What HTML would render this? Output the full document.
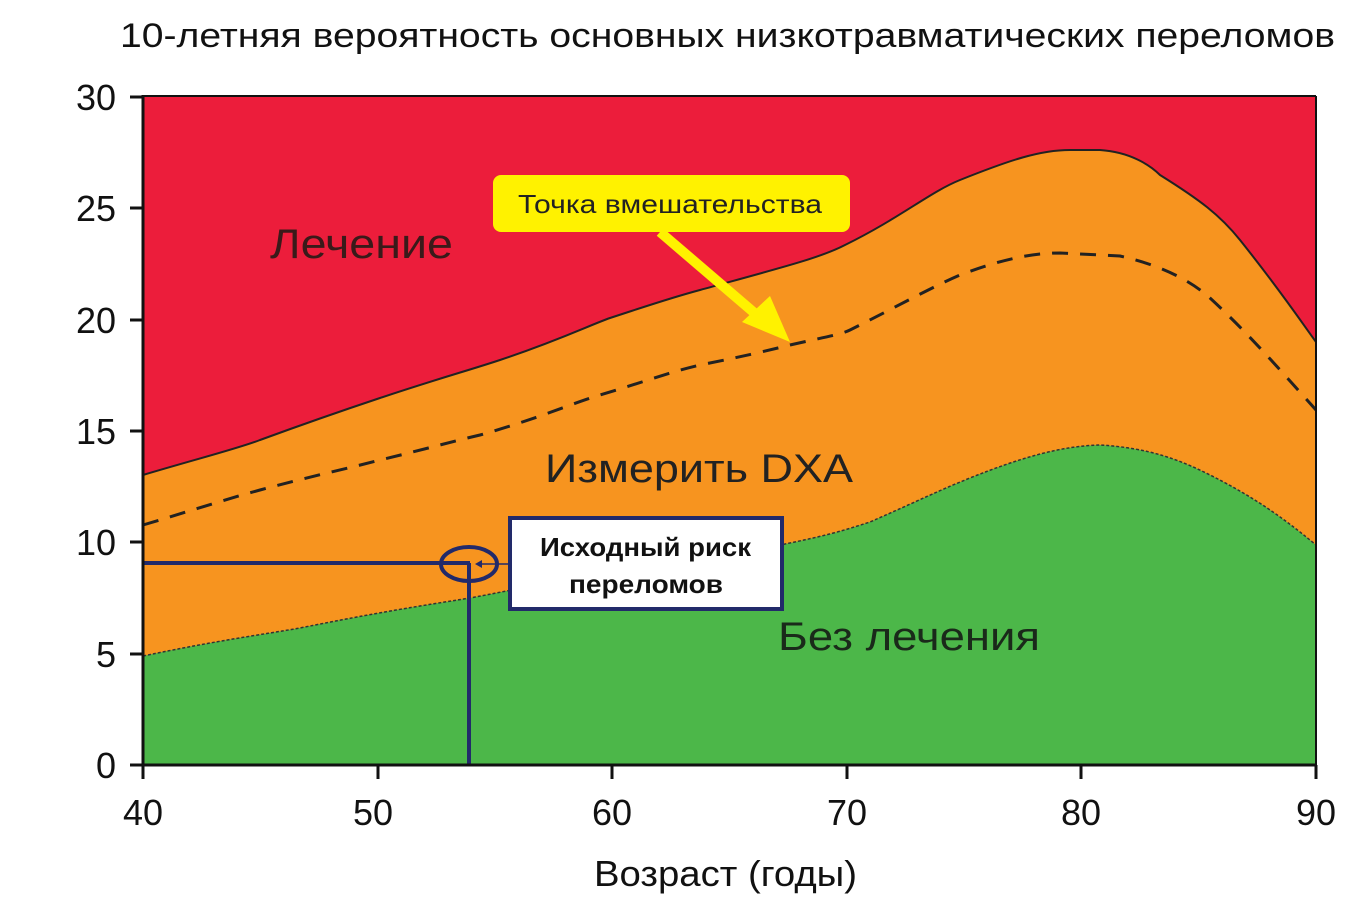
<!DOCTYPE html>
<html><head><meta charset="utf-8"><style>
html,body{margin:0;padding:0;background:#fff;}
svg{display:block;font-family:"Liberation Sans","DejaVu Sans",sans-serif;}
</style></head><body>
<svg width="1368" height="905" viewBox="0 0 1368 905" xmlns="http://www.w3.org/2000/svg">
<rect x="0" y="0" width="1368" height="905" fill="#fff"/>
<text x="120" y="47" font-size="34" textLength="1215" lengthAdjust="spacingAndGlyphs" fill="#111">10-летняя вероятность основных низкотравматических переломов</text>
<rect x="143" y="96" width="1173" height="669" fill="#ec1d3b"/>
<path d="M143,475 C200,458 240,448 260,440 C320,418 350,408 380,398 C440,378 470,370 500,360 C560,340 590,325 610,318 C650,305 670,298 700,290 C780,268 820,258 845,245 C900,218 930,192 960,180 C1010,160 1040,150 1070,150 L1100,150 C1130,152 1150,165 1160,175 C1200,200 1220,215 1240,240 C1280,290 1300,320 1316,342 L1316,765 L143,765 Z" fill="#f7941f" stroke="#222" stroke-width="2"/>
<path d="M143,656 C220,640 260,635 300,628 C380,612 420,606 470,598 C540,585 580,575 620,570 C700,555 740,550 780,545 C830,535 845,530 870,522 C920,500 940,490 970,478 C1020,458 1060,446 1100,445 C1150,448 1180,460 1210,475 C1250,495 1280,515 1316,545 L1316,765 L143,765 Z" fill="#4cb749" stroke="#333" stroke-width="1.5" stroke-dasharray="3,2"/>
<path d="M143,525 C200,508 230,498 260,490 C320,474 350,468 380,460 C430,448 450,442 480,435 C540,418 570,404 600,395 C650,380 670,372 700,365 C750,355 770,350 790,345 C820,338 840,335 850,330 C900,305 930,288 960,275 C1000,260 1030,253 1060,253 L1120,256 C1160,265 1190,280 1210,298 C1250,335 1280,370 1316,410" fill="none" stroke="#222" stroke-width="3" stroke-dasharray="16,12"/>
<text x="270" y="258" font-size="42" textLength="183" lengthAdjust="spacingAndGlyphs" fill="#3a1a1a">Лечение</text>
<text x="545" y="482" font-size="40" textLength="308" lengthAdjust="spacingAndGlyphs" fill="#222">Измерить DXA</text>
<text x="778" y="650" font-size="40" textLength="262" lengthAdjust="spacingAndGlyphs" fill="#1a2a1a">Без лечения</text>
<rect x="493" y="175" width="357" height="57" rx="8" fill="#fff200"/>
<text x="518" y="213" font-size="26" textLength="304" lengthAdjust="spacingAndGlyphs" fill="#222">Точка вмешательства</text>
<line x1="660" y1="232" x2="765" y2="322" stroke="#fff200" stroke-width="10"/>
<polygon points="790,342 742,322 770,296" fill="#fff200"/>
<line x1="143" y1="563" x2="470" y2="563" stroke="#222a6a" stroke-width="4"/>
<line x1="469" y1="563" x2="469" y2="765" stroke="#222a6a" stroke-width="4"/>
<line x1="480" y1="564" x2="510" y2="564" stroke="#222a6a" stroke-width="1.5"/>
<polygon points="475,564 482,560 482,568" fill="#222a6a"/>
<ellipse cx="469" cy="564" rx="28" ry="17" fill="none" stroke="#222a6a" stroke-width="4"/>
<rect x="510" y="518" width="272" height="91" fill="#fff" stroke="#222a6a" stroke-width="4"/>
<text x="540" y="556" font-size="26" font-weight="bold" textLength="211" lengthAdjust="spacingAndGlyphs" fill="#111">Исходный риск</text>
<text x="569" y="593" font-size="26" font-weight="bold" textLength="154" lengthAdjust="spacingAndGlyphs" fill="#111">переломов</text>
<g stroke="#111" stroke-width="3">
<line x1="143" y1="95" x2="143" y2="767"/>
<line x1="141" y1="765" x2="1317" y2="765"/>
<line x1="143" y1="96" x2="1316" y2="96" stroke-width="2"/>
<line x1="1316" y1="96" x2="1316" y2="765" stroke-width="2"/>
<line x1="130" y1="97" x2="143" y2="97"/><line x1="130" y1="208" x2="143" y2="208"/>
<line x1="130" y1="320" x2="143" y2="320"/><line x1="130" y1="431" x2="143" y2="431"/>
<line x1="130" y1="542" x2="143" y2="542"/><line x1="130" y1="654" x2="143" y2="654"/>
<line x1="130" y1="765" x2="143" y2="765"/>
<line x1="143" y1="765" x2="143" y2="779"/><line x1="378" y1="765" x2="378" y2="779"/>
<line x1="612" y1="765" x2="612" y2="779"/><line x1="847" y1="765" x2="847" y2="779"/>
<line x1="1081" y1="765" x2="1081" y2="779"/><line x1="1316" y1="765" x2="1316" y2="779"/>
</g>
<g font-size="36" fill="#111" text-anchor="end">
<text x="116" y="110">30</text><text x="116" y="221">25</text><text x="116" y="333">20</text>
<text x="116" y="444">15</text><text x="116" y="555">10</text><text x="116" y="667">5</text>
<text x="116" y="778">0</text>
</g>
<g font-size="36" fill="#111" text-anchor="middle">
<text x="143" y="825">40</text><text x="373" y="825">50</text><text x="612" y="825">60</text>
<text x="847" y="825">70</text><text x="1081" y="825">80</text><text x="1316" y="825">90</text>
</g>
<text x="594" y="886" font-size="36" textLength="263" lengthAdjust="spacingAndGlyphs" fill="#111">Возраст (годы)</text>
</svg>
</body></html>
